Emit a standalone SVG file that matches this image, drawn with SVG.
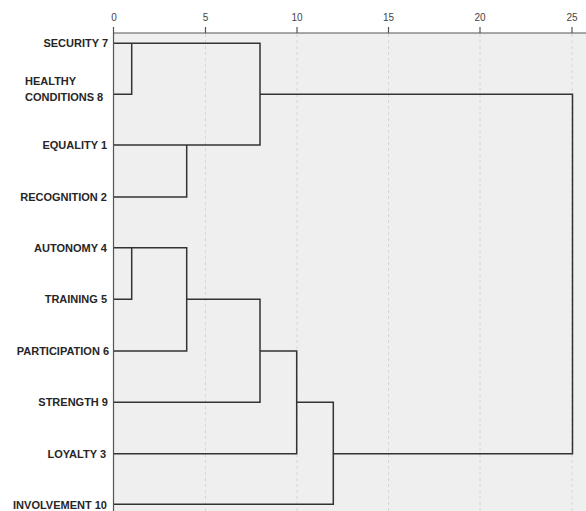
<svg xmlns="http://www.w3.org/2000/svg" width="586" height="511" viewBox="0 0 586 511">
<style>
.lbl{font-family:"Liberation Sans",Arial,sans-serif;font-weight:bold;font-size:11px;fill:#262626}
.tick{font-family:"Liberation Sans",Arial,sans-serif;font-size:10px;fill:#444;text-anchor:middle}
.grid{stroke:#d6d6d6;stroke-width:1;stroke-dasharray:3 3}
.ln{stroke:#333;stroke-width:1.5;fill:none}
.ax{stroke:#555;stroke-width:1.2;fill:none}
</style>
<rect width="586" height="511" fill="#ffffff"/>
<rect x="114" y="33" width="472" height="478" fill="#efefef"/>
<g id="grid">
<line class="grid" x1="205.5" y1="34" x2="205.5" y2="511"/>
<line class="grid" x1="297" y1="34" x2="297" y2="511"/>
<line class="grid" x1="388.5" y1="34" x2="388.5" y2="511"/>
<line class="grid" x1="480" y1="34" x2="480" y2="511"/>
<line class="grid" x1="572" y1="34" x2="572" y2="511"/>
</g>
<g id="axis">
<line class="ax" x1="113.5" y1="33" x2="586" y2="33"/>
<line class="ax" x1="113.5" y1="33" x2="113.5" y2="511"/>
<path class="ax" d="M113.5 27V33M205.5 27V33M297 27V33M388.5 27V33M480 27V33M572 27V33"/>
<text class="tick" x="114" y="21">0</text>
<text class="tick" x="205.5" y="21">5</text>
<text class="tick" x="297" y="21">10</text>
<text class="tick" x="388.5" y="21">15</text>
<text class="tick" x="480" y="21">20</text>
<text class="tick" x="572" y="21">25</text>
</g>
<g id="security7"><text class="lbl" x="108" y="47" text-anchor="end">SECURITY 7</text></g>
<g id="healthy8"><text class="lbl" x="25" y="85">HEALTHY</text><text class="lbl" x="25" y="100.5">CONDITIONS  8</text></g>
<g id="equality1"><text class="lbl" x="107" y="148.9" text-anchor="end">EQUALITY 1</text></g>
<g id="recognition2"><text class="lbl" x="107" y="200.9" text-anchor="end">RECOGNITION 2</text></g>
<g id="autonomy4"><text class="lbl" x="107" y="251.7" text-anchor="end">AUTONOMY 4</text></g>
<g id="training5"><text class="lbl" x="107" y="302.9" text-anchor="end">TRAINING 5</text></g>
<g id="participation6"><text class="lbl" x="109" y="354.7" text-anchor="end">PARTICIPATION 6</text></g>
<g id="strength9"><text class="lbl" x="108" y="405.9" text-anchor="end">STRENGTH 9</text></g>
<g id="loyalty3"><text class="lbl" x="106" y="457.7" text-anchor="end">LOYALTY 3</text></g>
<g id="involvement10"><text class="lbl" x="107" y="508.5" text-anchor="end">INVOLVEMENT 10</text></g>
<g id="connectors">
<path class="ln" d="M114 43.3H260V145H114"/>
<path class="ln" d="M114 94.3H131.7V43.3"/>
<path class="ln" d="M260 94.3H572.5V453.7H333.3"/>
<path class="ln" d="M114 197H186.7V145"/>
<path class="ln" d="M114 247.7H186.7V351H114"/>
<path class="ln" d="M114 299.3H131.7V247.7"/>
<path class="ln" d="M186.7 299.3H260V402.3H114"/>
<path class="ln" d="M260 351H296.7V453.7H114"/>
<path class="ln" d="M296.7 402.3H333.3V504.3H114"/>
</g>
</svg>
